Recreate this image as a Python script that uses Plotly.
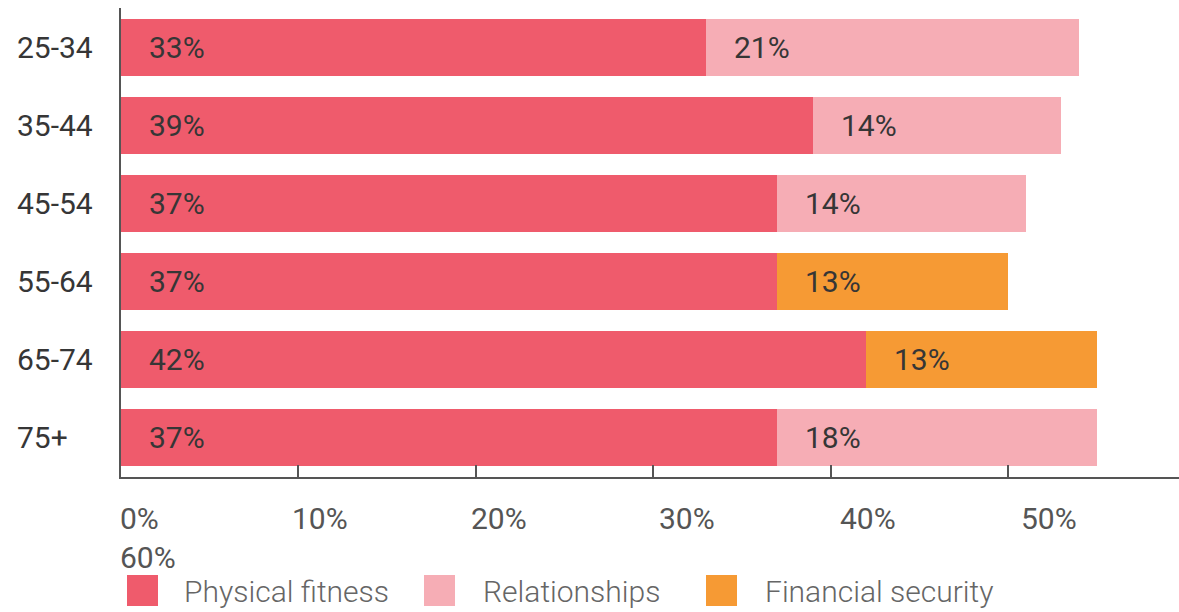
import plotly.graph_objects as go

# ---- data ----
categories = ["25-34", "35-44", "45-54", "55-64", "65-74", "75+"]
physical_fitness = [33, 39, 37, 37, 42, 37]
relationships = [21, 14, 14, None, None, 18]
financial_security = [None, None, None, 13, 13, None]
series_names = ["Physical fitness", "Relationships", "Financial security"]
x_tick_values = [0, 10, 20, 30, 40, 50, 60]
x_tick_labels = ["0%", "10%", "20%", "30%", "40%", "50%", "60%"]

colors = ["#EF5B6C", "#F6ADB5", "#F69A34"]
W, H = 1179, 612
ML, MR, MT, MB = 121, 0, 8, 135
PW, PH = W - ML - MR, H - MT - MB
PX_PER_PCT = 17.74
FONT = "Roboto"
DARK = "#363636"
GREY = "#555555"

def px_to_paper_x(px):
    return (px - ML) / PW

def py_to_paper_y(py):
    return (H - MB - py) / PH

fig = go.Figure()
all_series = [physical_fitness, relationships, financial_security]
for name, vals, col in zip(series_names, all_series, colors):
    fig.add_trace(go.Bar(
        y=categories, x=vals, name=name, orientation="h",
        marker=dict(color=col, line=dict(width=0)),
        showlegend=False, hoverinfo="skip",
    ))

annotations = []
# bar value labels
cum = [0] * len(categories)
for vals in all_series:
    for i, v in enumerate(vals):
        if v is None:
            continue
        annotations.append(dict(
            x=cum[i], y=categories[i], xref="x", yref="y",
            text=f"{v}%", showarrow=False, xanchor="left", yanchor="middle",
            xshift=26, font=dict(family=FONT, size=30, color=DARK, weight=400),
        ))
        cum[i] += v

# category labels (left aligned)
for c in categories:
    annotations.append(dict(
        x=0, y=c, xref="paper", yref="y", text=c, showarrow=False,
        xanchor="left", yanchor="middle", xshift=15 - ML,
        font=dict(family=FONT, size=30, color=DARK, weight=400),
    ))

# x tick labels
label_shifts = [-3, -8, -7, 4, 7, 11]
for i, (tv, tl) in enumerate(zip(x_tick_values, x_tick_labels)):
    if i < len(label_shifts):
        annotations.append(dict(
            x=tv, y=py_to_paper_y(518), xref="x", yref="paper", text=tl,
            showarrow=False, xanchor="left", yanchor="middle", xshift=label_shifts[i],
            font=dict(family=FONT, size=30, color=GREY, weight=400),
        ))
    else:
        annotations.append(dict(
            x=px_to_paper_x(118), y=py_to_paper_y(557), xref="paper", yref="paper",
            text=tl, showarrow=False, xanchor="left", yanchor="middle",
            font=dict(family=FONT, size=30, color=GREY, weight=400),
        ))

# manual legend
shapes = []
legend_sq_x = [127, 424, 706]
legend_txt_x = [182, 481, 763]
for name, col, sx, tx in zip(series_names, colors, legend_sq_x, legend_txt_x):
    shapes.append(dict(
        type="rect", xref="paper", yref="paper",
        x0=px_to_paper_x(sx), x1=px_to_paper_x(sx + 31),
        y0=py_to_paper_y(606), y1=py_to_paper_y(575),
        fillcolor=col, line=dict(width=0),
    ))
    annotations.append(dict(
        x=px_to_paper_x(tx), y=py_to_paper_y(591), xref="paper", yref="paper",
        text=name, showarrow=False, xanchor="left", yanchor="middle",
        font=dict(family=FONT, size=30, color="#666666", weight=300),
    ))

fig.update_layout(
    width=W, height=H, barmode="stack", bargap=0.27,
    margin=dict(l=ML, r=MR, t=MT, b=MB, autoexpand=False),
    plot_bgcolor="white", paper_bgcolor="white",
    annotations=annotations, shapes=shapes,
    xaxis=dict(
        range=[0, PW / PX_PER_PCT], showgrid=False, zeroline=False,
        showline=True, linecolor="#555555", linewidth=2,
        ticks="inside", ticklen=12, tickwidth=1.5, tickcolor="#555555",
        tickvals=x_tick_values[:-1], showticklabels=False,
    ),
    yaxis=dict(
        categoryorder="array", categoryarray=categories, autorange="reversed",
        showgrid=False, zeroline=False, showline=True, linecolor="#555555",
        linewidth=2, ticks="", showticklabels=False,
    ),
)

fig.write_html(
    "out.html",
    config={"displayModeBar": False},
    post_script="document.body.style.margin='0';document.body.style.overflow='hidden';",
)
